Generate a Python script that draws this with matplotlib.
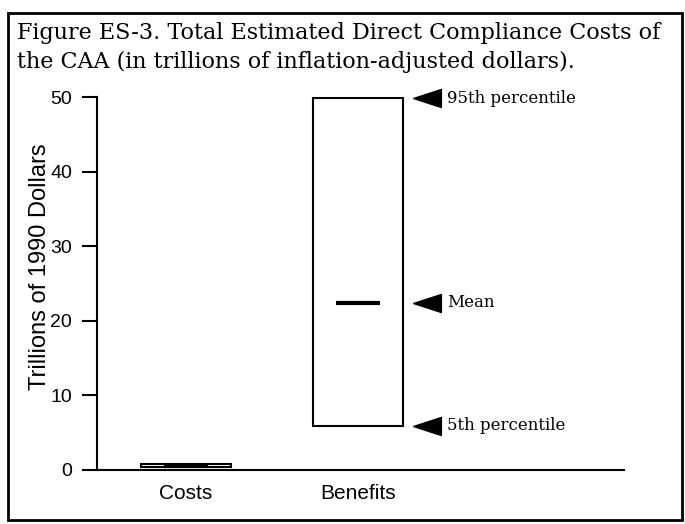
import matplotlib
matplotlib.use("Agg")
import matplotlib.pyplot as plt
from matplotlib.patches import Rectangle

categories = ["Costs", "Benefits"]
low = [0.4, 5.9]      # 5th percentile
high = [0.8, 49.8]    # 95th percentile
mean = [0.6, 22.4]
yticks = [0, 10, 20, 30, 40, 50]
arrow_labels = ["95th percentile", "Mean", "5th percentile"]

title = ("Figure ES-3. Total Estimated Direct Compliance Costs of\n"
         "the CAA (in trillions of inflation-adjusted dollars).")

fig = plt.figure(figsize=(6.85, 5.24), dpi=100)
ax = fig.add_axes([97/685, 1-470/524, (624-97)/685, (470-97)/524])

xpos = [1, 2]
ax.bar(xpos, [h - l for h, l in zip(high, low)], bottom=low, width=0.52,
       fill=False, edgecolor="black", linewidth=1.5)
ax.hlines(mean, [x - 0.13 for x in xpos], [x + 0.13 for x in xpos],
          color="black", linewidth=3)

# arrows pointing to the benefits box
tri = [(-1, 0), (1, 0.65), (1, -0.65), (-1, 0)]
for val, lab in zip([high[1], mean[1], low[1]], arrow_labels):
    ax.plot(2.40, val, marker=tri, markersize=20, color="black", clip_on=False)
    ax.text(2.52, val, lab, family="DejaVu Serif", fontsize=12,
            va="center", ha="left")

ax.set_xlim(0.483, 3.547)
ax.set_ylim(0, 50)
ax.set_yticks(yticks)
ax.set_xticks(xpos)
ax.set_xticklabels(categories)
ax.tick_params(axis="x", length=0, pad=10, labelsize=15)
ax.tick_params(axis="y", length=11, width=1.5, pad=7, labelsize=14)
for lab in ax.get_xticklabels() + ax.get_yticklabels():
    lab.set_family("Liberation Sans")
ax.set_ylabel("Trillions of 1990 Dollars", family="Liberation Sans",
              fontsize=17)
ax.yaxis.set_label_coords(-0.087, 0.545)
ax.spines["top"].set_visible(False)
ax.spines["right"].set_visible(False)
ax.spines["left"].set_linewidth(1.5)
ax.spines["bottom"].set_linewidth(1.5)

fig.text(17/685, 1-22/524, title, family="DejaVu Serif", fontsize=16,
         va="top", ha="left", linespacing=1.4)
fig.patches.append(Rectangle((8/685, 1-520/524), 674/685, 507/524,
                             transform=fig.transFigure, fill=False,
                             edgecolor="black", linewidth=2))

fig.savefig("out.png", dpi=100)
